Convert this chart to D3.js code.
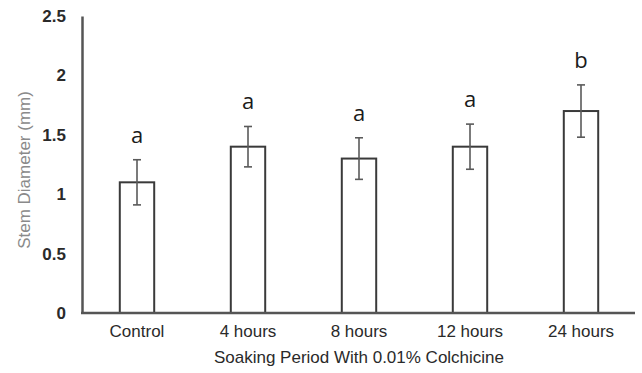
<!DOCTYPE html>
<html>
<head>
<meta charset="utf-8">
<script src="https://cdn.jsdelivr.net/npm/d3@7"></script>
<style>
  html, body { margin: 0; padding: 0; background: #fff; }
  svg { display: block; }
</style>
</head>
<body>
<svg id="chart" width="642" height="373"></svg>
<script>
const categories = ["Control", "4 hours", "8 hours", "12 hours", "24 hours"];
const means = [1.1, 1.4, 1.3, 1.4, 1.7];
const errors = [0.19, 0.17, 0.175, 0.19, 0.22];
const letters = ["a", "a", "a", "a", "b"];
const yTicks = [0, 0.5, 1, 1.5, 2, 2.5];
const yTickLabels = ["0", "0.5", "1", "1.5", "2", "2.5"];
const yTitle = "Stem Diameter (mm)";
const xTitle = "Soaking Period With 0.01% Colchicine";

const svg = d3.select("#chart");
const font = "'Liberation Sans', Arial, sans-serif";

const x = d3.scaleBand().domain(categories).range([81.5, 636.5])
  .paddingInner(0.69).paddingOuter(0.345);
const y = d3.scaleLinear().domain([0, 2.5]).range([313, 16]);

// bars
svg.append("g").selectAll("rect").data(categories).join("rect")
  .attr("x", d => x(d))
  .attr("y", (d, i) => y(means[i]))
  .attr("width", x.bandwidth())
  .attr("height", (d, i) => y(0) - y(means[i]))
  .attr("fill", "#fff")
  .attr("stroke", "#3a3a3a")
  .attr("stroke-width", 2);

// error bars
const eg = svg.append("g").attr("stroke", "#5a5a5a").attr("stroke-width", 1.6);
categories.forEach((c, i) => {
  const cx = x(c) + x.bandwidth() / 2;
  const top = y(means[i] + errors[i]);
  const bot = y(means[i] - errors[i]);
  eg.append("line").attr("x1", cx).attr("x2", cx).attr("y1", top).attr("y2", bot);
  eg.append("line").attr("x1", cx - 4).attr("x2", cx + 4).attr("y1", top).attr("y2", top);
  eg.append("line").attr("x1", cx - 4).attr("x2", cx + 4).attr("y1", bot).attr("y2", bot);
});

// significance letters
svg.append("g").selectAll("text").data(categories).join("text")
  .attr("x", d => x(d) + x.bandwidth() / 2)
  .attr("y", (d, i) => y(means[i] + errors[i]) - 17)
  .attr("text-anchor", "middle")
  .attr("font-family", "'Open Sans', 'Liberation Sans', sans-serif")
  .attr("font-size", 22)
  .attr("fill", "#1a1a1a")
  .text((d, i) => letters[i]);

// y axis
const yAxis = d3.axisLeft(y).tickValues(yTicks).tickFormat((d, i) => yTickLabels[i]).tickSize(0).tickPadding(16);
const yg = svg.append("g").attr("transform", "translate(82,0)").call(yAxis);
yg.select(".domain").attr("stroke", "#555").attr("stroke-width", 2.5);
yg.selectAll("text").attr("font-family", font).attr("font-size", 17).attr("fill", "#2a2a2a").attr("font-weight", "bold");

// x axis
const xAxis = d3.axisBottom(x).tickSize(0).tickPadding(12);
const xg = svg.append("g").attr("transform", "translate(0,313)").call(xAxis);
xg.select(".domain").attr("d", "M81,0H635").attr("stroke", "#555").attr("stroke-width", 2.5);
xg.selectAll("text").attr("font-family", font).attr("font-size", 17).attr("fill", "#2a2a2a");

// titles
svg.append("text")
  .attr("transform", "translate(30,170) rotate(-90)")
  .attr("text-anchor", "middle")
  .attr("font-family", font).attr("font-size", 17).attr("fill", "#8a8a8a")
  .text(yTitle);
svg.append("text")
  .attr("x", 359).attr("y", 363)
  .attr("text-anchor", "middle")
  .attr("font-family", font).attr("font-size", 17).attr("fill", "#2a2a2a")
  .text(xTitle);
</script>
</body>
</html>
